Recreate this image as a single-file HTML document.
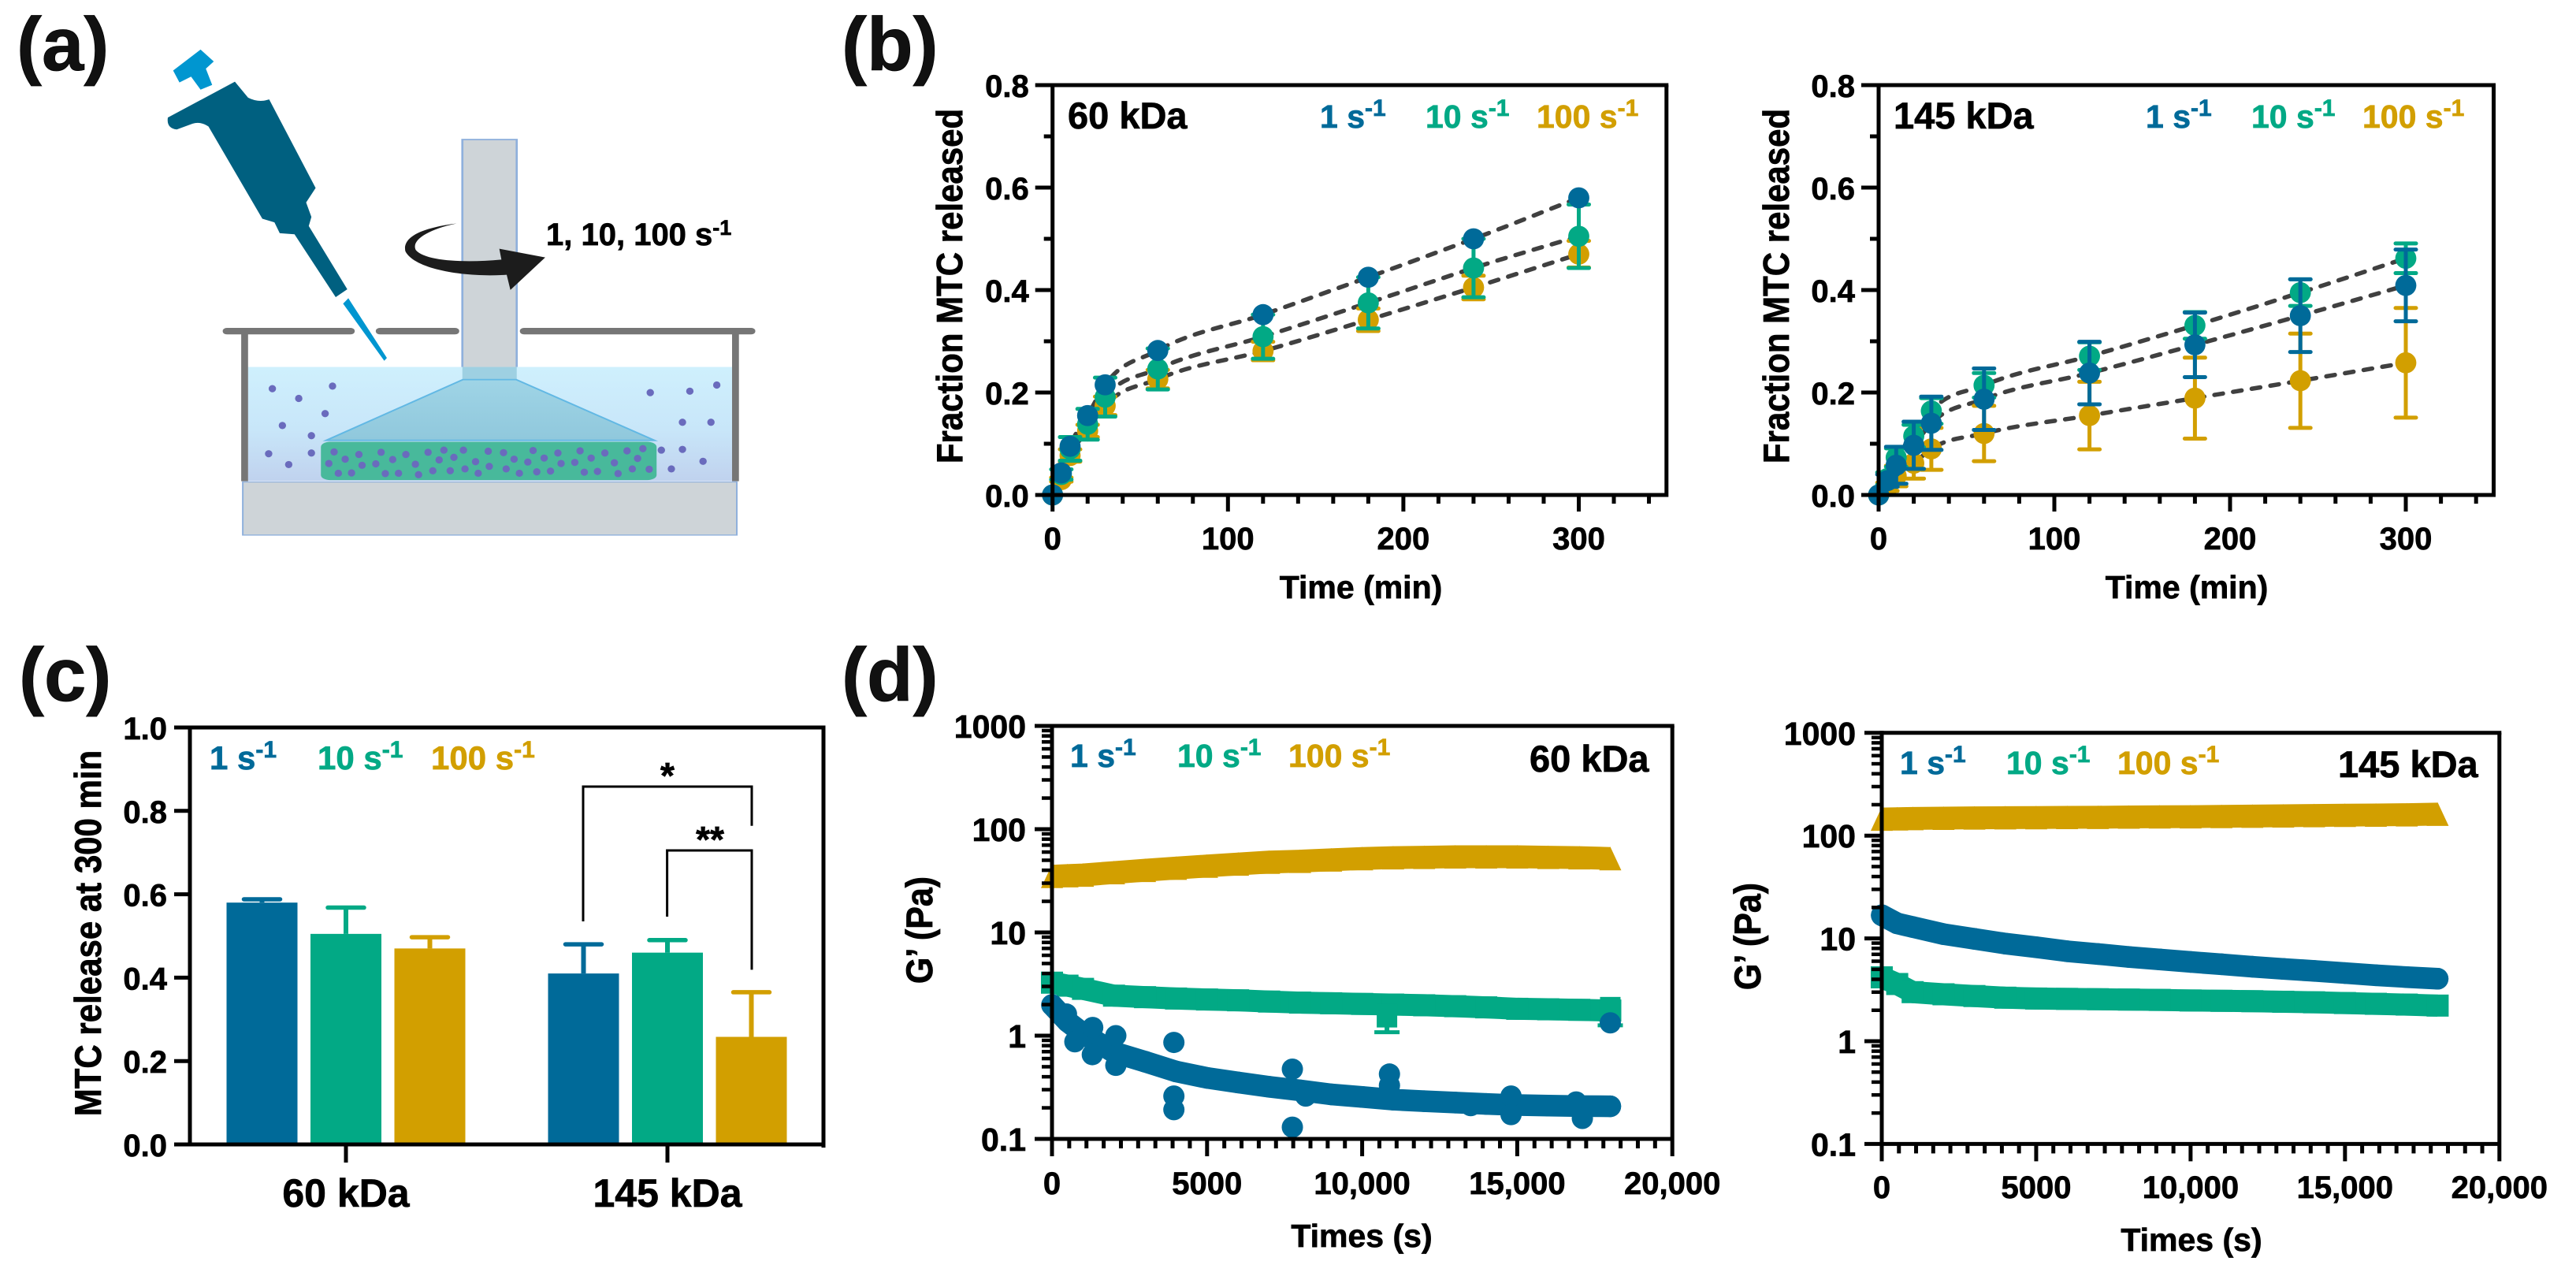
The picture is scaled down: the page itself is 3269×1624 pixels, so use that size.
<!DOCTYPE html>
<html lang="en">
<head>
<meta charset="utf-8">
<title>MTC release and rheology figure</title>
<style>
html,body{margin:0;padding:0;background:#fff;}
svg{display:block;}
text{font-family:"Liberation Sans",Arial,sans-serif;font-weight:700;fill:#000;stroke:#000;stroke-width:0.7;}
.blue{fill:#006a99;stroke:#006a99;}
.green{fill:#02a985;stroke:#02a985;}
.gold{fill:#d29f00;stroke:#d29f00;}
</style>
</head>
<body>
<svg id="fig" xmlns="http://www.w3.org/2000/svg" width="3269" height="1624" viewBox="0 0 3269 1624">
<rect width="3269" height="1624" fill="#fff"/>

<text x="21" y="89" font-size="96" style="fill:#111">(a)</text>
<text x="1068" y="89" font-size="96" style="fill:#111">(b)</text>
<text x="24" y="889" font-size="96" style="fill:#111">(c)</text>
<text x="1068" y="889" font-size="96" style="fill:#111">(d)</text>

<defs>
<linearGradient id="liquid-gradient" x1="0" y1="0" x2="0" y2="1">
<stop offset="0" stop-color="#cff0fd"/><stop offset="0.55" stop-color="#c8e6f9"/><stop offset="1" stop-color="#c0d2ee"/>
</linearGradient>
<linearGradient id="cone-gradient" x1="0" y1="0" x2="0" y2="1">
<stop offset="0" stop-color="#9fd4e6"/><stop offset="1" stop-color="#90c8dc"/>
</linearGradient>
</defs>

<g id="schematic" transform="scale(0.6698,0.4587)">
<rect x="876" y="386" width="103" height="660" fill="#ced4d8" stroke="#8fb0dc" stroke-width="4"/>
<rect x="470" y="1015" width="917" height="315" fill="url(#liquid-gradient)"/>
<rect x="876" y="1015" width="103" height="35" fill="#9ed0e2"/>
<polygon points="877,1050 978,1050 1240,1218 618,1218" fill="url(#cone-gradient)" stroke="#62b8e4" stroke-width="4"/>
<rect x="608" y="1222" width="636" height="106" rx="18" ry="14" fill="#48b99b"/>
<rect x="460" y="1333" width="936" height="147" fill="#ced4d8" stroke="#8fb0dc" stroke-width="3"/>
<rect x="457" y="916" width="13" height="415" fill="#767676"/>
<rect x="1387" y="916" width="13" height="415" fill="#767676"/>
<rect x="422" y="907" width="250" height="18" rx="8" fill="#767676"/>
<rect x="712" y="907" width="158" height="18" rx="8" fill="#767676"/>
<rect x="985" y="907" width="446" height="18" rx="8" fill="#767676"/>
<path d="M445,226 L470,270 Q490,285 510,275 L598,520 L580,560 L590,600 L585,625 L658,800 L636,822 L558,648 L530,645 L520,615 L497,605 L395,350 Q380,335 365,342 L335,358 Q315,355 318,325 Z" fill="#006080"/>
<path d="M380,137 L405,170 L390,190 L402,235 L380,248 L362,212 L340,228 L328,195 Z" fill="#0096d0"/>
<path d="M660,825 L733,990 L728,998 L650,840 Z" fill="#0096d0"/>
<path d="M865,618 C800,630 762,655 768,695 C785,745 880,768 960,760 L967,802 L1033,712 L946,688 L950,718 C880,728 805,722 788,692 C778,665 810,635 865,618 Z" fill="#1c1c1c"/>
</g>
<text x="693" y="311" font-size="40">1, 10, 100 s<tspan dy="-13" font-size="27">-1</tspan></text>

<!-- panel text -->
<text x="1355" y="163" font-size="47">60 kDa</text>
<text x="1675" y="162" font-size="41" class="blue">1 s<tspan dy="-15" font-size="30" class="blue">-1</tspan></text>
<text x="1809" y="162" font-size="41" class="green">10 s<tspan dy="-15" font-size="30" class="green">-1</tspan></text>
<text x="1950" y="162" font-size="41" class="gold">100 s<tspan dy="-15" font-size="30" class="gold">-1</tspan></text>
<text font-size="42" text-anchor="middle" transform="translate(1221,363) rotate(-90) scale(1,1.1)">Fraction MTC released</text>
<text x="1727" y="759" font-size="41" text-anchor="middle">Time (min)</text>

<text x="2403" y="163" font-size="47">145 kDa</text>
<text x="2723" y="162" font-size="41" class="blue">1 s<tspan dy="-15" font-size="30" class="blue">-1</tspan></text>
<text x="2857" y="162" font-size="41" class="green">10 s<tspan dy="-15" font-size="30" class="green">-1</tspan></text>
<text x="2998" y="162" font-size="41" class="gold">100 s<tspan dy="-15" font-size="30" class="gold">-1</tspan></text>
<text font-size="42" text-anchor="middle" transform="translate(2270,363) rotate(-90) scale(1,1.1)">Fraction MTC released</text>
<text x="2775" y="759" font-size="41" text-anchor="middle">Time (min)</text>

<text x="266" y="976" font-size="42" class="blue">1 s<tspan dy="-15" font-size="30" class="blue">-1</tspan></text>
<text x="403" y="976" font-size="42" class="green">10 s<tspan dy="-15" font-size="30" class="green">-1</tspan></text>
<text x="547" y="976" font-size="42" class="gold">100 s<tspan dy="-15" font-size="30" class="gold">-1</tspan></text>
<text font-size="42" text-anchor="middle" transform="translate(128,1184) rotate(-90) scale(1,1.12)">MTC release at 300 min</text>
<text x="847" y="1000" font-size="46" text-anchor="middle">*</text>
<text x="901" y="1081" font-size="46" text-anchor="middle">**</text>
<path d="M740,1169 V998 H954 V1047.8" fill="none" stroke="#000" stroke-width="3"/>
<path d="M846.6,1163 V1079 H954 V1230.4" fill="none" stroke="#000" stroke-width="3"/>

<text x="1358" y="973" font-size="41" class="blue">1 s<tspan dy="-15" font-size="30" class="blue">-1</tspan></text>
<text x="1494" y="973" font-size="41" class="green">10 s<tspan dy="-15" font-size="30" class="green">-1</tspan></text>
<text x="1635" y="973" font-size="41" class="gold">100 s<tspan dy="-15" font-size="30" class="gold">-1</tspan></text>
<text x="1941" y="979" font-size="47">60 kDa</text>
<text font-size="43" text-anchor="middle" transform="translate(1183,1180) rotate(-90) scale(1,1.1)">G’ (Pa)</text>
<text x="1728" y="1582" font-size="41" text-anchor="middle">Times (s)</text>

<text x="2411" y="982" font-size="41" class="blue">1 s<tspan dy="-15" font-size="30" class="blue">-1</tspan></text>
<text x="2546" y="982" font-size="41" class="green">10 s<tspan dy="-15" font-size="30" class="green">-1</tspan></text>
<text x="2687" y="982" font-size="41" class="gold">100 s<tspan dy="-15" font-size="30" class="gold">-1</tspan></text>
<text x="2967" y="986" font-size="47">145 kDa</text>
<text font-size="43" text-anchor="middle" transform="translate(2234,1188) rotate(-90) scale(1,1.1)">G’ (Pa)</text>
<text x="2781" y="1587" font-size="41" text-anchor="middle">Times (s)</text>

<g id="charts"></g>
</svg>

<script>
/* ---------- data ---------- */
const releaseTimes = [0,5,10,20,30,60,120,180,240,300];
const releaseTickLabelsX = [0,100,200,300];
const releaseTickLabelsY = ['0.0','0.2','0.4','0.6','0.8'];

const mw60Rate1   = [0,.043,.095,.155,.215,.282,.352,.425,.5,.58];
const mw60Rate1Sd = [0,.005,.005,.005,.006,.007,.006,.006,.005,.01];
const mw60Rate10   = [0,.04,.09,.138,.191,.246,.309,.375,.443,.505];
const mw60Rate10Sd = [0,.01,.023,.03,.038,.04,.043,.05,.057,.062];
const mw60Rate100   = [0,.03,.077,.125,.174,.226,.281,.342,.405,.47];
const mw60Rate100Sd = [0,.004,.012,.012,.018,.018,.018,.022,.023,.026];

const mw145Rate1   = [0,.028,.058,.097,.14,.187,.238,.293,.35,.409];
const mw145Rate1Sd = [0,.012,.036,.046,.052,.06,.061,.063,.071,.07];
const mw145Rate10   = [0,.032,.073,.115,.164,.214,.271,.331,.395,.462];
const mw145Rate10Sd = [0,.012,.018,.022,.025,.024,.027,.026,.026,.029];
const mw145Rate100   = [0,.016,.037,.062,.09,.12,.155,.189,.223,.258];
const mw145Rate100Sd = [0,.008,.02,.03,.041,.054,.066,.079,.092,.107];

const barGroups = ['60 kDa','145 kDa'];
const barRate1 = [.58,.41];
const barRate10 = [.505,.46];
const barRate100 = [.47,.258];
const barRate1Upper = [.588,.48];
const barRate10Upper = [.568,.49];
const barRate100Upper = [.497,.365];
const barTickLabels = ['0.0','0.2','0.4','0.6','0.8','1.0'];

const gelTimes = [0,500,1000,2000,3000,4000,5000,6000,7000,8000,9000,10000,11000,12000,13000,14000,15000,16000,17000,18000];
const gelTickLabelsX = [0,5000,10000,15000,20000];
const gelTickTextX = ['0','5000','10,000','15,000','20,000'];
const gelTickLabelsY = ['0.1','1','10','100','1000'];

const gel60Rate100 = [35,35.5,36,38,40,42,44,46,48,49,50.5,52,53,53.5,54,54,54,53.5,53,52];
const gel60Rate10 = [3.26,3.05,2.84,2.44,2.36,2.29,2.24,2.2,2.14,2.09,2.06,2.03,2,1.97,1.93,1.88,1.82,1.8,1.78,1.75];
const gel60Rate1 = [1.98,1.37,1.05,.69,.56,.45,.39,.352,.32,.295,.27,.255,.24,.232,.225,.218,.213,.21,.208,.207];
const gel60Rate1OutlierTimes = [467,737,1300,1313,2058,2058,3930,3930,3930,7750,7750,8180,10880,10880,13500,14800,14800,16900,17100,18000];
const gel60Rate1OutlierValues = [1.62,.873,.655,1.2,1,.516,.86,.26,.192,.474,.13,.26,.425,.33,.21,.26,.172,.228,.158,1.33];
const gel60Rate10LowTime = [10800,18000];
const gel60Rate10LowValue = [1.08,1.26];

const gel145Rate100 = [145,146,147,148,149,149.5,150,150.5,151,152,152.5,153,154,155,156,157,158,159,160,162];
const gel145Rate10 = [4.18,3.6,3,2.86,2.75,2.65,2.6,2.58,2.56,2.54,2.52,2.49,2.47,2.45,2.42,2.39,2.35,2.31,2.27,2.22];
const gel145Rate1 = [16.8,14,12.9,11,9.9,8.9,8.2,7.5,7.05,6.6,6.24,5.9,5.6,5.3,5.05,4.83,4.6,4.38,4.2,4.05];

/* ---------- helpers ---------- */
const NS = 'http://www.w3.org/2000/svg';
const BLUE = '#006a99', GREEN = '#02a985', GOLD = '#d29f00', INK = '#000';
const root = document.getElementById('charts');
function mk(tag, attrs, parent) {
  const el = document.createElementNS(NS, tag);
  for (const k in attrs) el.setAttribute(k, attrs[k]);
  (parent || root).appendChild(el);
  return el;
}
function drawLine(x1, y1, x2, y2, width, color, name, cap) {
  const el = mk('line', {x1, y1, x2, y2, stroke: color, 'stroke-width': width, 'stroke-linecap': cap || 'butt'});
  
  
  return el;
}
function drawText(x, y, str, size, anchor, name) {
  const el = mk('text', {x, y, 'font-size': size, 'text-anchor': anchor});
  el.textContent = str;
  
  
  return el;
}
function splinePath(pts) {
  /* tangents lean on the incoming segment, which bows the curve like the original spline */
  const slope = function (a, b) { return (b[1] - a[1]) / Math.max(b[0] - a[0], 1e-6); };
  const tangent = function (i) {
    if (i === 0) return slope(pts[0], pts[1]);
    if (i === pts.length - 1) return slope(pts[i - 1], pts[i]);
    return 0.7 * slope(pts[i - 1], pts[i]) + 0.3 * slope(pts[i], pts[i + 1]);
  };
  let d = 'M' + pts[0][0] + ',' + pts[0][1];
  for (let i = 0; i < pts.length - 1; i++) {
    const p1 = pts[i], p2 = pts[i + 1], dx = p2[0] - p1[0];
    d += ' C' + (p1[0] + dx / 3) + ',' + (p1[1] + tangent(i) * dx / 3) + ' ' + (p2[0] - dx / 3) + ',' + (p2[1] - tangent(i + 1) * dx / 3) + ' ' + p2[0] + ',' + p2[1];
  }
  return d;
}

/* ---------- panel (a) particles ---------- */
const schematic = document.getElementById('schematic');
const particlePositions = '516,1075 630,1068 566,1102 616,1144 535,1177 590,1205 509,1255 590,1253 547,1285 1232,1086 1307,1082 1358,1065 1293,1168 1347,1168 1253,1245 1293,1243 1332,1276 1272,1297 633,1250 680,1257 722,1251 769,1257 811,1251 841,1245 878,1245 925,1248 954,1252 1010,1246 1057,1253 1099,1247 1146,1253 1188,1247 1218,1241 654,1270 623,1282 744,1271 712,1283 686,1287 787,1284 832,1272 860,1265 901,1277 974,1270 1000,1278 1031,1267 1063,1282 1089,1279 1120,1267 1164,1280 1208,1268 641,1309 666,1308 730,1310 755,1309 793,1313 820,1302 853,1302 881,1297 906,1309 927,1290 959,1297 984,1309 1017,1305 1043,1303 1107,1306 1132,1304 1171,1310 1198,1297 1230,1298';
particlePositions.split(' ').forEach(function (s) {
  const p = s.split(',');
  const dot = mk('ellipse', {cx: p[0], cy: p[1], rx: 7, ry: 10, fill: '#6a6bbd'}, schematic);
  
  
});

/* ---------- panels (b) ---------- */
function drawReleasePanel(prefix, ax, series) {
  const sx = function (v) { return ax.x0 + v * ax.kx; };
  const sy = function (v) { return ax.y0 - v * ax.ky; };
  const top = sy(0.8), right = sx(350);

  series.forEach(function (s) {
    const path = mk('path', {
      d: splinePath(releaseTimes.map(function (t, i) { return [sx(t), sy(s.values[i])]; })),
      fill: 'none', stroke: '#404040', 'stroke-width': 5.5, 'stroke-dasharray': '11 13', 'stroke-linecap': 'round'
    });
    
    
  });

  series.forEach(function (s) {
    releaseTimes.forEach(function (t, i) {
      if (t > 0) {
        const x = sx(t), hi = sy(s.values[i] + s.sd[i]), lo = sy(s.values[i] - s.sd[i]);
        drawLine(x, hi, x, lo, 5, s.color, prefix + '-error-stem-' + s.key);
        drawLine(x - s.capHalf, hi, x + s.capHalf, hi, 5, s.color, prefix + '-error-cap-' + s.key, 'round');
        drawLine(x - s.capHalf, lo, x + s.capHalf, lo, 5, s.color, prefix + '-error-cap-' + s.key, 'round');
      }
      const c = mk('circle', {cx: sx(t), cy: sy(s.values[i]), r: 13.4, fill: s.color});
      
      
    });
  });

  drawLine(ax.x0, top - 2.5, ax.x0, ax.y0 + 21, 5, INK, prefix + '-y-axis');
  drawLine(ax.x0 - 22, ax.y0, right, ax.y0, 5, INK, prefix + '-x-axis');
  drawLine(ax.x0 - 22, top, right + 2.5, top, 5, INK, prefix + '-top-frame');
  drawLine(right, top, right, ax.y0 + 2.5, 5, INK, prefix + '-right-frame');

  for (let t = 20; t <= 340; t += 20) {
    const major = releaseTickLabelsX.indexOf(t) >= 0;
    drawLine(sx(t), ax.y0, sx(t), ax.y0 + (major ? 21 : 11), 5, INK, prefix + '-x-tick');
  }
  releaseTickLabelsX.forEach(function (t) {
    drawText(sx(t), 697, String(t), 40, 'middle', prefix + '-x-tick-label');
  });
  releaseTickLabelsY.forEach(function (label) {
    const v = parseFloat(label);
    if (v > 0 && v < 0.8) drawLine(ax.x0 - 22, sy(v), ax.x0, sy(v), 5, INK, prefix + '-y-tick');
    drawText(ax.x0 - 30, sy(v) + 15, label, 40, 'end', prefix + '-y-tick-label');
  });
  for (let v = 0.1; v < 0.8; v += 0.2) {
    drawLine(ax.x0 - 11, sy(v), ax.x0, sy(v), 5, INK, prefix + '-y-minor-tick');
  }
}
drawReleasePanel('b1', {x0: 1335.7, kx: 2.226, y0: 628, ky: 650}, [
  {key: 'rate-100', color: GOLD, capHalf: 13, values: mw60Rate100, sd: mw60Rate100Sd},
  {key: 'rate-10', color: GREEN, capHalf: 13, values: mw60Rate10, sd: mw60Rate10Sd},
  {key: 'rate-1', color: BLUE, capHalf: 8, values: mw60Rate1, sd: mw60Rate1Sd}
]);
drawReleasePanel('b2', {x0: 2384, kx: 2.23, y0: 628, ky: 650}, [
  {key: 'rate-100', color: GOLD, capHalf: 13, values: mw145Rate100, sd: mw145Rate100Sd},
  {key: 'rate-10', color: GREEN, capHalf: 13, values: mw145Rate10, sd: mw145Rate10Sd},
  {key: 'rate-1', color: BLUE, capHalf: 13, values: mw145Rate1, sd: mw145Rate1Sd}
]);

/* ---------- panel (c) ---------- */
(function () {
  const x0 = 241, right = 1045, y0 = 1452, ky = 529;
  const sy = function (v) { return y0 - v * ky; };
  const groupX = function (g) { return 439 + g * 408; };
  const barSeries = [
    {key: 'rate-1', color: BLUE, values: barRate1, upper: barRate1Upper, off: -106.5},
    {key: 'rate-10', color: GREEN, values: barRate10, upper: barRate10Upper, off: 0},
    {key: 'rate-100', color: GOLD, values: barRate100, upper: barRate100Upper, off: 106.5}
  ];
  barGroups.forEach(function (g, gi) {
    barSeries.forEach(function (s) {
      const cx = groupX(gi) + s.off;
      drawLine(cx, sy(s.values[gi]), cx, sy(s.upper[gi]), 6, s.color, 'c-error-stem-' + s.key);
      drawLine(cx - 23, sy(s.upper[gi]), cx + 23, sy(s.upper[gi]), 5.5, s.color, 'c-error-cap-' + s.key, 'round');
      const bar = mk('rect', {x: cx - 45, y: sy(s.values[gi]), width: 90, height: y0 - sy(s.values[gi]), fill: s.color});
      
      
    });
    drawLine(groupX(gi), y0, groupX(gi), y0 + 23, 5, INK, 'c-x-tick');
    drawText(groupX(gi), 1531, g, 50, 'middle', 'c-x-tick-label');
  });
  drawLine(x0, sy(1) - 2.5, x0, y0, 5, INK, 'c-y-axis');
  drawLine(x0 - 20, y0, right, y0, 5, INK, 'c-x-axis');
  drawLine(x0 - 20, sy(1), right + 2.5, sy(1), 5, INK, 'c-top-frame');
  drawLine(right, sy(1), right, y0 + 4, 5, INK, 'c-right-frame');
  barTickLabels.forEach(function (label) {
    const v = parseFloat(label);
    if (v > 0 && v < 1) drawLine(x0 - 20, sy(v), x0, sy(v), 5, INK, 'c-y-tick');
    drawText(212, sy(v) + 15, label, 40, 'end', 'c-y-tick-label');
  });
})();

/* ---------- panels (d) ---------- */
function drawGelPanel(prefix, ax, gold, green, blue, extras) {
  const sx = function (t) { return ax.x0 + t * ax.kx; };
  const sy = function (v) { return ax.y1 - Math.log10(v) * ax.dec; };
  const top = sy(1000), bottom = sy(0.1), right = sx(20000);
  const toPts = function (vals) { return gelTimes.map(function (t, i) { return sx(t) + ',' + sy(vals[i]); }).join(' '); };

  const goldBand = mk('polyline', {points: toPts(gold), fill: 'none', stroke: GOLD, 'stroke-width': 29, 'stroke-linejoin': 'round'});
  
  
  gelTimes.forEach(function (t, i) {
    const x = sx(t), y = sy(gold[i]);
    const tri = mk('polygon', {points: x + ',' + (y - 15) + ' ' + (x - 14) + ',' + (y + 15) + ' ' + (x + 14) + ',' + (y + 15), fill: GOLD});
    
    
  });

  const greenBand = mk('polyline', {points: toPts(green), fill: 'none', stroke: GREEN, 'stroke-width': 28, 'stroke-linejoin': 'round'});
  
  
  gelTimes.forEach(function (t, i) {
    const sq = mk('rect', {x: sx(t) - 14, y: sy(green[i]) - 14, width: 28, height: 28, fill: GREEN});
    
    
  });
  if (extras) {
    extras.lowTimes.forEach(function (t, i) {
      const x = sx(t), y = sy(extras.lowValues[i]);
      drawLine(x, y, x, y - 30, 6, GREEN, prefix + '-error-stem-rate-10');
      drawLine(x - 16, y, x + 16, y, 5, GREEN, prefix + '-error-cap-rate-10');
      const sq = mk('rect', {x: x - 13, y: y - 36, width: 26, height: 30, fill: GREEN});
      
      
    });
  }

  const blueBand = mk('polyline', {points: toPts(blue), fill: 'none', stroke: BLUE, 'stroke-width': 27.5, 'stroke-linejoin': 'round', 'stroke-linecap': 'round'});
  
  
  gelTimes.forEach(function (t, i) {
    const c = mk('circle', {cx: sx(t), cy: sy(blue[i]), r: 13.75, fill: BLUE});
    
    
  });
  if (extras) {
    extras.outlierTimes.forEach(function (t, i) {
      const c = mk('circle', {cx: sx(t), cy: sy(extras.outlierValues[i]), r: 13.5, fill: BLUE});
      
      
    });
  }

  drawLine(ax.x0, top - 2.5, ax.x0, bottom + 22, 5, INK, prefix + '-y-axis');
  drawLine(ax.x0 - 22, bottom, right, bottom, 5, INK, prefix + '-x-axis');
  drawLine(ax.x0 - 22, top, right + 2.5, top, 5, INK, prefix + '-top-frame');
  drawLine(right, top, right, bottom + 22, 5, INK, prefix + '-right-frame');

  for (let k = 1; k < 36; k++) {
    if (k % 9 === 0) continue;
    const x = sx(k * 5000 / 9);
    drawLine(x, bottom, x, bottom + 12, 5, INK, prefix + '-x-minor-tick');
  }
  gelTickLabelsX.forEach(function (t, i) {
    if (t > 0 && t < 20000) drawLine(sx(t), bottom, sx(t), bottom + 22, 5, INK, prefix + '-x-tick');
    drawText(sx(t), ax.labelY, gelTickTextX[i], 40, 'middle', prefix + '-x-tick-label');
  });
  gelTickLabelsY.forEach(function (label) {
    const v = parseFloat(label);
    if (v > 0.1 && v < 1000) drawLine(ax.x0 - 22, sy(v), ax.x0, sy(v), 5, INK, prefix + '-y-tick');
    drawText(ax.labelRight, sy(v) + 15, label, 41, 'end', prefix + '-y-tick-label');
    if (v < 1000) {
      for (let m = 2; m <= 9; m++) {
        drawLine(ax.x0 - 13, sy(v * m), ax.x0, sy(v * m), 4.5, INK, prefix + '-y-minor-tick');
      }
    }
  });
}
drawGelPanel('d1', {x0: 1335, kx: 0.03936, y1: 1314, dec: 131, labelY: 1515, labelRight: 1302},
  gel60Rate100, gel60Rate10, gel60Rate1,
  {lowTimes: gel60Rate10LowTime, lowValues: gel60Rate10LowValue, outlierTimes: gel60Rate1OutlierTimes, outlierValues: gel60Rate1OutlierValues});
drawGelPanel('d2', {x0: 2388, kx: 0.03919, y1: 1321, dec: 130.4, labelY: 1520, labelRight: 2355},
  gel145Rate100, gel145Rate10, gel145Rate1, null);
</script>
</body>
</html>
